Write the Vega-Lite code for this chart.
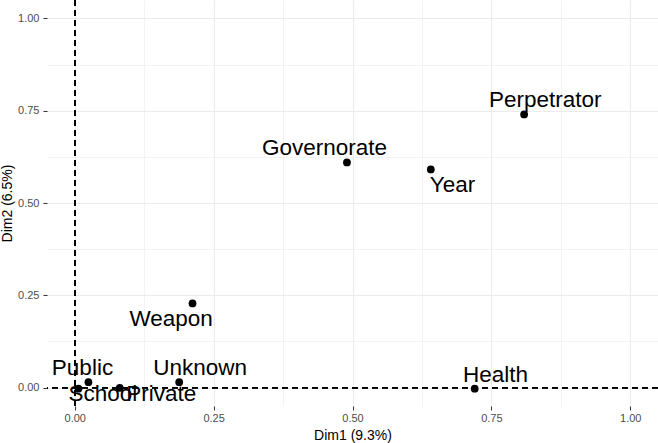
{
  "$schema": "https://vega.github.io/schema/vega-lite/v6.json",
  "width": 611,
  "height": 406,
  "autosize": {"type": "none"},
  "padding": {"left": 47, "top": 0, "right": 0, "bottom": 37},
  "background": "white",
  "config": {
    "view": {"stroke": null},
    "font": "Liberation Sans",
    "axis": {
      "domain": false,
      "labelFont": "Liberation Sans",
      "labelFontSize": 11,
      "labelColor": "#4d4d4d",
      "titleFont": "Liberation Sans",
      "titleFontSize": 14,
      "titleFontWeight": "normal",
      "titleColor": "#000000",
      "tickColor": "#333333",
      "gridColor": "#ebebeb"
    }
  },
  "data": {
    "values": [
      {"label": "Perpetrator", "Dim1": 0.809, "Dim2": 0.740, "label_x": 0.847, "label_y": 0.778},
      {"label": "Governorate", "Dim1": 0.490, "Dim2": 0.610, "label_x": 0.4495, "label_y": 0.648},
      {"label": "Year", "Dim1": 0.641, "Dim2": 0.591, "label_x": 0.680, "label_y": 0.548},
      {"label": "Weapon", "Dim1": 0.212, "Dim2": 0.228, "label_x": 0.1735, "label_y": 0.186},
      {"label": "Unknown", "Dim1": 0.188, "Dim2": 0.0145, "label_x": 0.2256, "label_y": 0.052},
      {"label": "Public", "Dim1": 0.0246, "Dim2": 0.0145, "label_x": 0.0139, "label_y": 0.052},
      {"label": "School", "Dim1": 0.0066, "Dim2": -0.003, "label_x": 0.0504, "label_y": -0.018},
      {"label": "Private", "Dim1": 0.081, "Dim2": -0.001, "label_x": 0.1557, "label_y": -0.018},
      {"label": "Health", "Dim1": 0.720, "Dim2": -0.003, "label_x": 0.7575, "label_y": 0.0347}
    ]
  },
  "layer": [
    {
      "mark": {"type": "point", "filled": true, "size": 0, "opacity": 0},
      "encoding": {
        "x": {
          "field": "Dim1", "type": "quantitative",
          "scale": {"domain": [-0.05, 1.05], "nice": false, "zero": false},
          "title": "Dim1 (9.3%)",
          "axis": {
            "values": [0, 0.125, 0.25, 0.375, 0.5, 0.625, 0.75, 0.875, 1],
            "labelExpr": "datum.value % 0.25 === 0 ? format(datum.value, '.2f') : ''",
            "gridWidth": {"condition": {"test": "datum.value % 0.25 === 0", "value": 1.1}, "value": 0.6},
            "tickSize": {"condition": {"test": "datum.value % 0.25 === 0", "value": 4}, "value": 0},
            "tickWidth": 1,
            "labelPadding": 2,
            "titlePadding": 5
          }
        },
        "y": {
          "field": "Dim2", "type": "quantitative",
          "scale": {"domain": [-0.05, 1.05], "nice": false, "zero": false},
          "title": "Dim2 (6.5%)",
          "axis": {
            "values": [0, 0.125, 0.25, 0.375, 0.5, 0.625, 0.75, 0.875, 1],
            "labelExpr": "datum.value % 0.25 === 0 ? format(datum.value, '.2f') : ''",
            "gridWidth": {"condition": {"test": "datum.value % 0.25 === 0", "value": 1.1}, "value": 0.6},
            "tickSize": {"condition": {"test": "datum.value % 0.25 === 0", "value": 4}, "value": 0},
            "tickWidth": 1,
            "labelPadding": 4,
            "titlePadding": 3
          }
        }
      }
    },
    {
      "mark": {"type": "rule", "strokeDash": [6, 4], "strokeWidth": 1.2, "color": "black"},
      "encoding": {"x": {"datum": 0, "type": "quantitative"}}
    },
    {
      "mark": {"type": "rule", "strokeDash": [6, 4], "strokeWidth": 1.2, "color": "black"},
      "encoding": {"y": {"datum": 0, "type": "quantitative"}}
    },
    {
      "mark": {"type": "point", "filled": true, "size": 60, "color": "black", "opacity": 1},
      "encoding": {
        "x": {"field": "Dim1", "type": "quantitative"},
        "y": {"field": "Dim2", "type": "quantitative"}
      }
    },
    {
      "mark": {"type": "text", "font": "Liberation Sans", "fontSize": 22.5, "color": "black", "align": "center", "baseline": "middle"},
      "encoding": {
        "x": {"field": "label_x", "type": "quantitative"},
        "y": {"field": "label_y", "type": "quantitative"},
        "text": {"field": "label"}
      }
    }
  ]
}
